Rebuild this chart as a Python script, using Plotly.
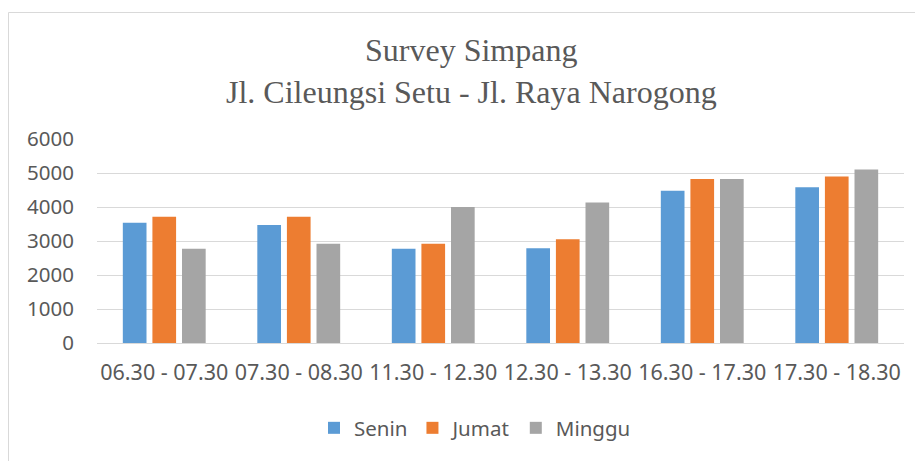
import plotly.graph_objects as go

categories = ["06.30 - 07.30", "07.30 - 08.30", "11.30 - 12.30",
              "12.30 - 13.30", "16.30 - 17.30", "17.30 - 18.30"]
senin = [3540, 3470, 2775, 2785, 4480, 4580]
jumat = [3710, 3710, 2920, 3050, 4825, 4900]
minggu = [2775, 2920, 4000, 4135, 4825, 5100]
y_ticks = [0, 1000, 2000, 3000, 4000, 5000, 6000]

W, H = 923, 461
OFF = 8  # page body margin
# target plot area in screen pixels
SX0, SX1, SY0, SY1 = 97, 904, 139, 343
L = SX0 - OFF
T = SY0 - OFF
R = W - (SX1 - OFF)
B = H - (SY1 - OFF)
pw, ph = W - L - R, H - T - B

def px_x(x):
    return (x - OFF - L) / pw

def px_y(y):
    return (H - B - (y - OFF)) / ph

fig = go.Figure()
for name, vals, col in [("Senin", senin, "#5B9BD5"),
                        ("Jumat", jumat, "#ED7D31"),
                        ("Minggu", minggu, "#A5A5A5")]:
    fig.add_trace(go.Bar(name=name, x=categories, y=vals,
                         marker=dict(color=col, line=dict(width=0))))

fig.update_layout(
    width=W, height=H,
    margin=dict(l=L, r=R, t=T, b=B),
    paper_bgcolor="white", plot_bgcolor="white",
    barmode="group", bargap=0.34, bargroupgap=0.2,
    font=dict(family="Noto Sans", size=20, color="#595959"),
    showlegend=True,
    legend=dict(orientation="h", x=px_x(475), xanchor="center",
                y=px_y(428), yanchor="middle",
                font=dict(family="Noto Sans", size=20.5, color="#595959"),
                itemwidth=30, tracegroupgap=0),
    xaxis=dict(showgrid=False, showline=False, ticks="",
               ticklabelstandoff=14,
               tickfont=dict(size=21.5, color="#595959")),
    yaxis=dict(range=[0, 6000], tickvals=y_ticks, showgrid=True,
               gridcolor="#D9D9D9", gridwidth=1, zeroline=True,
               zerolinecolor="#D9D9D9", zerolinewidth=1, showline=False,
               ticks="", ticklabelstandoff=22,
               tickfont=dict(size=20.5, color="#595959")),
    annotations=[
        dict(text="Survey Simpang", x=px_x(471), y=px_y(50),
             xref="paper", yref="paper", xanchor="center", yanchor="middle",
             showarrow=False,
             font=dict(family="Liberation Serif", size=32, color="#595959")),
        dict(text="Jl. Cileungsi Setu - Jl. Raya Narogong", x=px_x(471),
             y=px_y(92), xref="paper", yref="paper", xanchor="center",
             yanchor="middle", showarrow=False,
             font=dict(family="Liberation Serif", size=32, color="#595959")),
    ],
    shapes=[dict(type="rect", xref="paper", yref="paper",
                 x0=px_x(8.5), x1=px_x(1000), y0=px_y(600), y1=px_y(12.5),
                 line=dict(color="#D9D9D9", width=1), layer="below")],
)

fig.write_html("out.html")
